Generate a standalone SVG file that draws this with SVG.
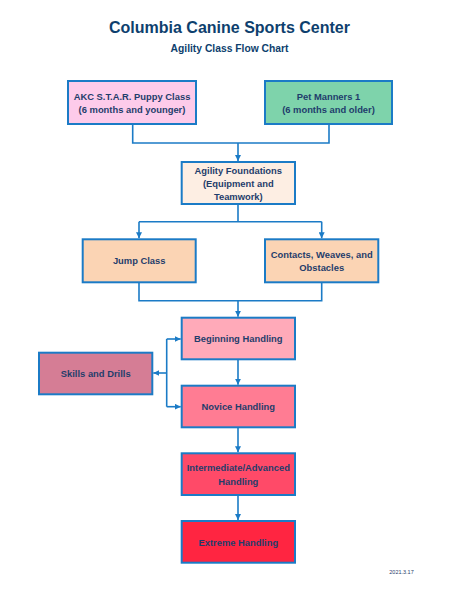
<svg xmlns="http://www.w3.org/2000/svg" width="459" height="600" viewBox="0 0 459 600">
<style>
.box{stroke:#1B7BC6;stroke-width:2}
.lbl{font-family:"Liberation Sans",Arial,sans-serif;font-weight:bold;font-size:9.4px;fill:#1F3D6B;text-anchor:middle}
.title{font-family:"Liberation Sans",Arial,sans-serif;font-weight:bold;fill:#0E3F6E;text-anchor:middle}
.conn{fill:none;stroke:#1B7BC6;stroke-width:1.6}
</style>
<defs>
<marker id="ah" viewBox="0 0 10 10" refX="10" refY="5" markerWidth="6" markerHeight="6" markerUnits="userSpaceOnUse" orient="auto">
<path d="M0 0 L10 5 L0 10 z" fill="#1B7BC6"/>
</marker>
</defs>
<rect width="459" height="600" fill="#fff"/>
<text class="title" x="229.5" y="33" font-size="16">Columbia Canine Sports Center</text>
<text class="title" x="229.5" y="52" font-size="10.3">Agility Class Flow Chart</text>
<g id="connectors">
<path class="conn" d="M132.7 124 V143 H329 V124"/>
<path class="conn" d="M238 143 V161" marker-end="url(#ah)"/>
<path class="conn" d="M238 204 V221.7 H139 M238 221.7 H321.7"/>
<path class="conn" d="M139 221.7 V238.3" marker-end="url(#ah)"/>
<path class="conn" d="M321.7 221.7 V238.3" marker-end="url(#ah)"/>
<path class="conn" d="M139 282.3 V300.7 H321.7 V282.3"/>
<path class="conn" d="M238 300.7 V316.7" marker-end="url(#ah)"/>
<path class="conn" d="M238 359.3 V384.7" marker-end="url(#ah)"/>
<path class="conn" d="M166.7 339 V406.7"/>
<path class="conn" d="M166.7 339 H180.7" marker-end="url(#ah)"/>
<path class="conn" d="M166.7 406.7 H180.7" marker-end="url(#ah)"/>
<path class="conn" d="M166.7 373 H153.3" marker-end="url(#ah)"/>
<path class="conn" d="M238 427.3 V452.3" marker-end="url(#ah)"/>
<path class="conn" d="M238 495 V520" marker-end="url(#ah)"/>
</g>
<g id="akc">
<rect class="box" x="68" y="81" width="128" height="43" fill="#FDCBEA"/>
<text class="lbl" x="132" y="99.5">AKC S.T.A.R. Puppy Class</text>
<text class="lbl" x="132" y="112.7">(6 months and younger)</text>
</g>
<g id="pet">
<rect class="box" x="265" y="81" width="127" height="43" fill="#7ED3AB"/>
<text class="lbl" x="328.5" y="99.5">Pet Manners 1</text>
<text class="lbl" x="328.5" y="112.7">(6 months and older)</text>
</g>
<g id="foundations">
<rect class="box" x="181.7" y="162" width="113.3" height="42" fill="#FDEEE3"/>
<text class="lbl" x="238.3" y="174">Agility Foundations</text>
<text class="lbl" x="238.3" y="187">(Equipment and</text>
<text class="lbl" x="238.3" y="200">Teamwork)</text>
</g>
<g id="jump">
<rect class="box" x="82.7" y="239.3" width="113" height="43" fill="#FBD4B4"/>
<text class="lbl" x="139.2" y="264.3">Jump Class</text>
</g>
<g id="contacts">
<rect class="box" x="265" y="239.3" width="113.3" height="43" fill="#FBD4B4"/>
<text class="lbl" x="321.7" y="257.6">Contacts, Weaves, and</text>
<text class="lbl" x="321.7" y="271">Obstacles</text>
</g>
<g id="beginning">
<rect class="box" x="181.7" y="317.7" width="113.3" height="41.6" fill="#FFAAB9"/>
<text class="lbl" x="238.3" y="342.3">Beginning Handling</text>
</g>
<g id="skills">
<rect class="box" x="39" y="352.7" width="113.3" height="41.6" fill="#D57D95"/>
<text class="lbl" x="95.7" y="376.6">Skills and Drills</text>
</g>
<g id="novice">
<rect class="box" x="181.7" y="385.7" width="113.3" height="41.6" fill="#FF7C93"/>
<text class="lbl" x="238.3" y="410">Novice Handling</text>
</g>
<g id="intermediate">
<rect class="box" x="181.7" y="453.3" width="113.3" height="41.7" fill="#FF4A68"/>
<text class="lbl" x="238.3" y="471.3">Intermediate/Advanced</text>
<text class="lbl" x="238.3" y="484.5">Handling</text>
</g>
<g id="extreme">
<rect class="box" x="181.7" y="521" width="113.3" height="41.7" fill="#FF2541"/>
<text class="lbl" x="238.3" y="545.6">Extreme Handling</text>
</g>
<text x="401.5" y="573.5" font-family="Liberation Sans,Arial,sans-serif" font-size="5.5" fill="#1F3D6B" text-anchor="middle">2021.3.17</text>
</svg>
